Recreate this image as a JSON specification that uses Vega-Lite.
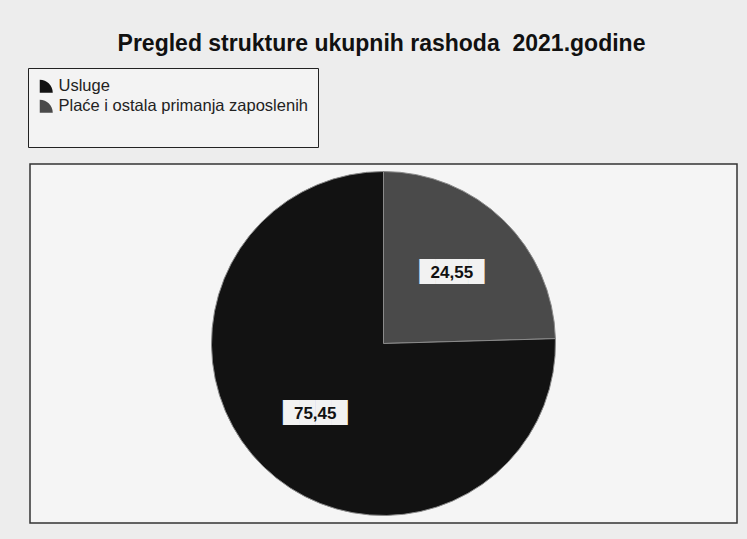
{
  "$schema": "https://vega.github.io/schema/vega-lite/v6.json",
  "width": 707,
  "height": 359,
  "autosize": "none",
  "padding": {"left": 30, "top": 164, "right": 10, "bottom": 16},
  "background": "#ededed",
  "view": {"stroke": "#333333", "strokeWidth": 1.5, "fill": "#f5f5f5"},
  "title": {
    "text": "Pregled strukture ukupnih rashoda\u00a0\u00a02021.godine",
    "font": "Liberation Sans",
    "fontSize": 23,
    "fontWeight": "bold",
    "color": "#111111",
    "anchor": "middle",
    "offset": 12,
    "dx": -2
  },
  "data": {
    "values": [
      {"kategorija": "Plaće i ostala primanja zaposlenih", "udio": 24.55, "oznaka": "24,55", "red": 1},
      {"kategorija": "Usluge", "udio": 75.45, "oznaka": "75,45", "red": 2}
    ]
  },
  "encoding": {
    "theta": {"field": "udio", "type": "quantitative", "stack": true},
    "order": {"field": "red", "type": "quantitative"}
  },
  "layer": [
    {
      "mark": {"type": "arc", "outerRadius": 172, "stroke": "#8a8a8a", "strokeWidth": 1},
      "encoding": {
        "color": {
          "field": "kategorija",
          "type": "nominal",
          "scale": {"domain": ["Usluge", "Plaće i ostala primanja zaposlenih"], "range": ["#121212", "#4a4a4a"]},
          "legend": {
            "title": "\u00a0",
            "titleOrient": "bottom",
            "titleFont": "Liberation Sans",
            "titleFontSize": 14,
            "titleFontWeight": "normal",
            "titlePadding": 8,
            "orient": "none",
            "legendX": -2,
            "legendY": -96,
            "strokeColor": "#222222",
            "fillColor": "#f3f3f3",
            "padding": 10,
            "labelFont": "Liberation Sans",
            "labelFontSize": 16.5,
            "labelColor": "#222222",
            "symbolType": "M-1,1 L-1,-1 A2,2 0 0 1 1,1 Z",
            "symbolSize": 170,
            "symbolStrokeWidth": 0,
            "rowPadding": 3,
            "labelLimit": 400
          }
        }
      }
    },
    {
      "mark": {"type": "text", "radius": 98, "text": "████", "font": "DejaVu Sans", "fontSize": 21, "color": "#f2f2f2"}
    },
    {
      "mark": {"type": "text", "radius": 98, "font": "Liberation Sans", "fontSize": 17, "fontWeight": "bold", "color": "#111111"},
      "encoding": {"text": {"field": "oznaka", "type": "nominal"}}
    }
  ]
}
